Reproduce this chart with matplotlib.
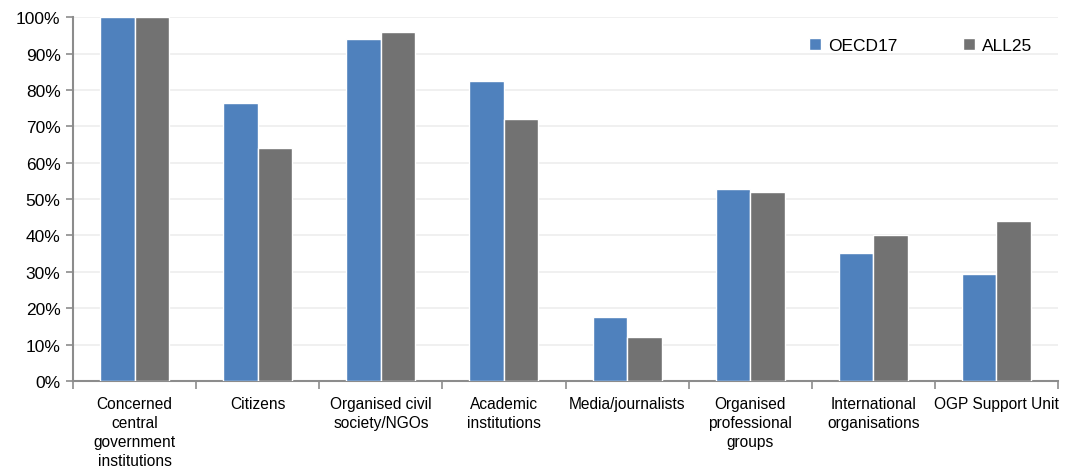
import matplotlib
matplotlib.use("Agg")
import matplotlib.pyplot as plt
import numpy as np
from matplotlib import font_manager

categories = [
    "Concerned\ncentral\ngovernment\ninstitutions",
    "Citizens",
    "Organised civil\nsociety/NGOs",
    "Academic\ninstitutions",
    "Media/journalists",
    "Organised\nprofessional\ngroups",
    "International\norganisations",
    "OGP Support Unit",
]
oecd17 = [100.0, 76.5, 94.1, 82.4, 17.6, 52.9, 35.3, 29.4]
all25 = [100.0, 64.0, 96.0, 72.0, 12.0, 52.0, 40.0, 44.0]
series_names = ["OECD17", "ALL25"]
yticks = [0, 10, 20, 30, 40, 50, 60, 70, 80, 90, 100]

names = {f.name for f in font_manager.fontManager.ttflist}
family = ["Liberation Sans Narrow", "Liberation Sans", "DejaVu Sans"]
family = [f for f in family if f in names] or ["DejaVu Sans"]
plt.rcParams["font.family"] = family

blue = "#4F81BD"
grey = "#727272"
axis_grey = "#8C8C8C"

fig = plt.figure(figsize=(10.66, 4.77), dpi=100)
ax = fig.add_axes([0.0685, 0.199, 0.924, 0.763])

x = np.arange(len(categories))
w = 0.28
ax.bar(x - w / 2, oecd17, width=w, color=blue, edgecolor="white", linewidth=1.0,
       label=series_names[0], zorder=3)
ax.bar(x + w / 2, all25, width=w, color=grey, edgecolor="white", linewidth=1.0,
       label=series_names[1], zorder=3)

ax.set_xlim(-0.5, len(categories) - 0.5)
ax.set_ylim(0, 100)
ax.set_yticks(yticks)
ax.set_yticklabels([f"{t}%" for t in yticks], fontsize=12.5)
ax.yaxis.grid(True, color="#EDEDED", linewidth=1.2, zorder=0)
ax.set_axisbelow(True)

# category labels centred, tick marks at category boundaries
ax.set_xticks(x)
ax.set_xticklabels(categories, fontsize=11.2, linespacing=1.33, va="top")
ax.tick_params(axis="x", which="major", length=0, pad=11)
ax.set_xticks(np.arange(-0.5, len(categories)), minor=True)
ax.tick_params(axis="x", which="minor", length=6, width=1.2, color=axis_grey)
ax.tick_params(axis="y", length=5, width=1.2, color=axis_grey, pad=4)

for s in ["top", "right"]:
    ax.spines[s].set_visible(False)
for s in ["left", "bottom"]:
    ax.spines[s].set_color(axis_grey)
    ax.spines[s].set_linewidth(1.5)

ax.legend(loc="upper right", bbox_to_anchor=(0.99, 0.985), ncol=2, frameon=False,
          fontsize=12.5, handlelength=0.7, handleheight=0.7, handletextpad=0.4,
          columnspacing=3.8)

fig.savefig("out.png", dpi=100)
